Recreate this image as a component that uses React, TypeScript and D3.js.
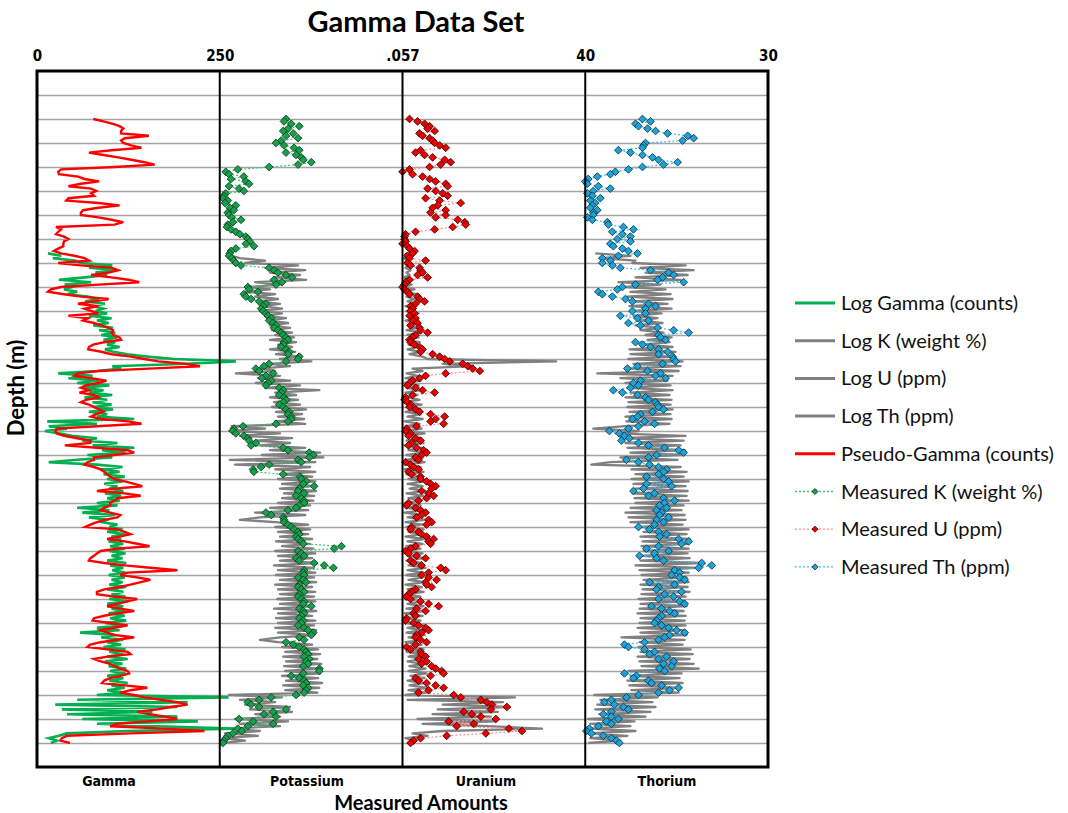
import React, { useEffect, useRef } from 'react';
import * as d3 from 'd3';

// depth of first sample (m), samples are every 1 m
const measuredStart = 20;
const logStart = 76;

// measured K (weight %), 20 m .. 280 m
const measuredK = [
  1.65, 1.60, 1.78, 1.98, 1.70, 1.58, 1.83, 1.65, 1.95, 1.53,
  1.40, 1.60, 1.85, 1.98, 1.65, 1.90, 2.03, 2.08, 2.28, 1.95,
  1.23, 0.45, 0.15, 0.23, 0.60, 0.28, 0.65, 0.73, 0.23, 0.48,
  0.60, 0.15, 0.10, 0.08, 0.20, 0.13, 0.40, 0.25, 0.35, 0.20,
  0.23, 0.30, 0.53, 0.33, 0.20, 0.18, 0.28, 0.40, 0.50, 0.65,
  0.70, 0.75, 0.65, 0.85, 0.40, 0.28, 0.25, 0.23, 0.30, 0.35,
  0.40, 0.53, 1.23, 1.35, 1.45, 1.65, 1.80, 1.35, 1.55, 1.40,
  0.70, 0.73, 0.95, 0.60, 0.65, 0.78, 0.98, 1.15, 1.08, 1.03,
  1.08, 1.15, 1.20, 1.28, 1.23, 1.33, 1.40, 1.35, 1.45, 1.53,
  1.58, 1.65, 1.70, 1.60, 1.58, 1.53, 1.65, 1.73, 1.70, 1.98,
  1.95, 1.65, 1.23, 1.10, 0.90, 0.98, 1.33, 1.15, 1.05, 1.28,
  1.20, 1.15, 1.48, 1.58, 1.53, 1.48, 1.60, 1.65, 1.58, 1.48,
  1.58, 1.65, 1.73, 1.70, 1.78, 1.78, 1.70, 1.40, 0.58, 0.35,
  0.33, 0.40, 0.60, 0.70, 0.73, 0.90, 0.78, 1.58, 1.70, 2.23,
  2.33, 2.23, 1.95, 2.03, 1.23, 1.03, 0.83, 0.85, 1.58, 2.00,
  2.03, 2.15, 2.08, 2.35, 1.98, 1.95, 2.10, 1.90, 2.03, 2.10,
  2.10, 1.98, 1.90, 1.70, 1.15, 1.28, 1.58, 1.60, 1.60, 1.70,
  1.78, 1.85, 1.95, 1.98, 1.90, 1.95, 2.03, 2.08, 3.03, 2.85,
  1.95, 2.03, 2.10, 1.90, 1.98, 2.35, 2.60, 2.83, 2.10, 2.08,
  2.10, 1.95, 2.08, 2.15, 1.98, 1.95, 2.03, 2.10, 1.98, 1.95,
  2.03, 2.10, 2.08, 2.28, 1.98, 2.08, 2.10, 2.03, 1.98, 2.08,
  2.03, 1.95, 2.10, 2.20, 2.33, 2.28, 1.98, 2.10, 1.65, 1.83,
  1.98, 2.10, 2.15, 2.20, 2.10, 2.23, 2.15, 2.20, 2.08, 2.48,
  2.48, 2.08, 1.78, 1.98, 2.10, 2.15, 2.08, 2.20, 2.15, 2.10,
  1.90, 1.28, 0.98, 0.70, 0.78, 0.98, 1.65, 1.33, 1.10, 1.40,
  0.48, 0.83, 1.33, 0.70, 0.45, 0.55, 0.33, 0.20, 0.15, 0.10,
  0.08,
];

// measured U (ppm)
const measuredU = [
  1.4, 3.0, 4.4, 5.4, 5.0, 6.4, 3.4, 4.0, 5.4, 6.0,
  6.4, 7.4, 8.6, 3.6, 2.6, 4.4, 6.0, 8.4, 9.6, 7.6,
  5.4, 1.4, 0.0, 2.0, 4.0, 5.4, 6.6, 8.6, 9.0, 5.0,
  6.6, 8.0, 9.0, 4.6, 7.4, 11.6, 7.0, 6.0, 8.6, 5.6,
  8.6, 6.6, 11.0, 12.4, 12.6, 10.0, 6.4, 2.6, 0.6, 0.4,
  0.4, 0.6, 0.0, 1.0, 1.4, 2.4, 2.0, 1.0, 1.4, 4.6,
  1.0, 1.6, 3.4, 3.6, 4.0, 3.0, 5.0, 1.4, 0.6, 0.4,
  0.0, 0.4, 1.0, 1.4, 3.0, 3.4, 4.4, 2.6, 1.6, 2.0,
  1.6, 2.4, 1.4, 2.6, 2.0, 3.0, 1.6, 3.4, 3.6, 5.0,
  2.6, 2.0, 1.4, 1.6, 2.4, 3.4, 4.0, 3.6, 6.0, 7.4,
  8.4, 9.4, 12.0, 13.0, 14.0, 15.4, 8.6, 4.6, 3.4, 2.0,
  1.4, 1.0, 2.6, 4.0, 6.4, 2.0, 0.6, 0.4, 1.0, 1.6,
  1.4, 2.6, 3.4, 5.6, 8.4, 6.6, 5.6, 8.2, 2.8, 0.8,
  0.6, 1.6, 1.2, 2.6, 3.6, 1.8, 1.2, 2.8, 4.2, 4.8,
  3.8, 2.6, 3.2, 0.6, 1.6, 2.2, 3.2, 1.2, 1.8, 3.6,
  3.6, 4.8, 5.6, 6.6, 5.8, 3.8, 5.2, 6.2, 4.8, 3.2,
  1.2, 0.8, 2.6, 3.6, 4.6, 3.8, 2.8, 5.2, 5.8, 4.8,
  1.8, 1.6, 3.2, 3.8, 4.8, 6.2, 5.2, 5.6, 2.6, 1.6,
  0.6, 1.2, 2.8, 4.6, 1.6, 2.2, 3.8, 7.6, 8.6, 5.2,
  3.8, 5.2, 6.8, 4.6, 4.8, 5.8, 2.6, 1.8, 1.2, 0.8,
  1.6, 3.6, 5.2, 7.2, 2.8, 4.6, 2.2, 2.6, 0.8, 0.6,
  2.2, 3.2, 4.6, 5.2, 3.8, 2.8, 2.6, 3.6, 4.8, 2.6,
  0.8, 1.6, 3.6, 3.8, 4.6, 3.2, 4.8, 3.8, 5.8, 6.6,
  7.8, 8.2, 5.6, 2.6, 3.2, 4.8, 6.6, 8.2, 5.2, 3.2,
  10.2, 11.6, 15.6, 16.8, 17.8, 20.8, 17.6, 12.2, 13.8, 15.6,
  18.6, 9.2, 14.2, 10.8, 21.2, 23.8, 16.6, 8.8, 3.6, 2.2,
  1.6,
];

// measured Th (ppm)
const measuredTh = [
  11.4, 13.0, 10.0, 10.6, 12.4, 14.0, 16.4, 20.4, 21.6, 19.4,
  12.0, 11.6, 11.4, 6.6, 9.0, 11.4, 13.4, 14.6, 18.4, 15.6,
  11.4, 8.6, 6.0, 5.0, 2.4, 0.6, 0.0, 0.4, 2.6, 5.0,
  1.6, 0.4, 1.4, 3.0, 1.0, 2.0, 1.4, 1.0, 2.4, 1.6,
  1.6, 0.4, 1.4, 4.4, 4.6, 7.6, 9.6, 5.4, 7.4, 9.0,
  6.4, 9.0, 5.0, 5.6, 7.4, 8.6, 10.4, 6.6, 3.4, 5.0,
  3.4, 5.4, 7.0, 13.0, 16.6, 17.6, 15.4, 14.4, 19.6, 10.0,
  7.4, 6.4, 2.6, 3.4, 5.4, 8.0, 9.4, 12.6, 14.0, 12.0,
  9.4, 12.0, 7.0, 10.4, 12.6, 8.6, 11.0, 14.4, 17.6, 20.6,
  14.6, 15.0, 16.0, 10.0, 11.4, 13.0, 14.6, 16.4, 14.6, 17.4,
  17.6, 18.0, 15.4, 10.4, 8.4, 12.4, 15.0, 14.0, 16.0, 11.0,
  9.6, 10.6, 9.0, 5.6, 7.4, 10.4, 12.0, 12.6, 14.0, 14.4,
  14.6, 15.6, 13.4, 11.0, 10.4, 9.4, 11.8, 13.8, 10.6, 8.6,
  4.8, 6.8, 7.8, 8.8, 7.2, 10.6, 12.6, 15.8, 18.6, 19.6,
  14.2, 12.6, 8.2, 10.6, 12.8, 14.6, 16.2, 15.6, 14.6, 12.2,
  15.6, 16.6, 12.2, 17.2, 11.6, 9.6, 13.8, 12.6, 15.6, 17.8,
  15.8, 14.8, 16.2, 14.2, 15.2, 14.8, 16.6, 14.2, 15.6, 13.8,
  10.6, 12.8, 14.6, 16.2, 14.8, 18.6, 20.6, 19.2, 14.6, 12.2,
  16.6, 13.8, 10.8, 14.2, 15.6, 23.2, 25.2, 22.6, 17.8, 18.8,
  17.2, 18.8, 19.8, 12.8, 17.8, 14.6, 14.2, 19.2, 15.8, 17.6,
  14.6, 18.8, 19.8, 13.2, 15.2, 16.8, 17.8, 15.2, 14.6, 14.2,
  13.8, 15.2, 16.6, 18.2, 19.8, 16.8, 15.8, 14.6, 11.8, 7.8,
  8.6, 11.8, 13.8, 12.8, 16.2, 14.6, 17.6, 15.6, 17.2, 14.8,
  15.8, 7.8, 10.2, 9.6, 12.6, 13.2, 15.2, 18.6, 16.8, 14.6,
  10.6, 8.2, 5.2, 3.8, 5.8, 7.6, 8.6, 5.2, 3.6, 5.2,
  6.6, 4.2, 5.2, 2.6, 0.8, 0.2, 1.2, 3.6, 5.2, 6.2,
  6.8,
];

// pseudo-gamma (counts), 20 m .. 280 m
const pseudoGamma = [
  77, 91, 104, 113, 118, 115, 115, 153, 120, 115,
  118, 129, 143, 102, 71, 91, 111, 129, 147, 161,
  106, 33, 29, 30, 56, 65, 85, 60, 43, 74,
  81, 74, 78, 43, 40, 84, 113, 84, 63, 60,
  60, 84, 102, 118, 106, 26, 33, 29, 26, 37,
  43, 37, 36, 36, 29, 23, 33, 51, 65, 71,
  29, 60, 102, 111, 98, 74, 102, 125, 140, 84,
  33, 19, 15, 37, 60, 98, 78, 56, 84, 65,
  74, 84, 43, 70, 63, 78, 88, 98, 104, 102,
  104, 113, 115, 92, 77, 71, 70, 88, 102, 129,
  147, 166, 202, 223, 153, 84, 56, 51, 74, 95,
  84, 67, 60, 71, 58, 78, 84, 67, 60, 71,
  78, 85, 91, 81, 74, 88, 125, 143, 82, 27,
  25, 27, 37, 55, 73, 73, 38, 82, 124, 133,
  106, 78, 78, 69, 65, 78, 87, 92, 96, 100,
  106, 120, 133, 144, 106, 82, 120, 142, 110, 106,
  100, 100, 92, 87, 100, 114, 110, 92, 82, 73,
  66, 110, 120, 128, 113, 96, 120, 137, 154, 110,
  87, 82, 78, 73, 71, 92, 120, 155, 192, 124,
  114, 137, 155, 142, 128, 113, 92, 82, 82, 106,
  137, 124, 110, 96, 114, 133, 110, 92, 78, 76,
  100, 124, 106, 87, 96, 106, 133, 110, 87, 73,
  69, 96, 124, 128, 96, 78, 87, 100, 106, 114,
  124, 126, 114, 100, 92, 89, 120, 151, 128, 114,
  133, 147, 169, 192, 206, 183, 165, 137, 155, 174,
  192, 151, 110, 100, 174, 229, 128, 41, 34, 32,
  45,
];

// logged gamma (counts), 76 m .. 280 m
const logGamma = [
  15, 33, 22, 52,
  60, 103, 71, 110, 80, 96, 66, 30, 74, 38,
  48, 37, 55, 41, 69, 85, 66, 93, 76, 91,
  80, 96, 71, 102, 82, 98, 77, 104, 85, 107,
  88, 110, 91, 107, 96, 113, 93, 104, 124, 151,
  188, 272, 206, 103, 115, 82, 29, 76, 43, 85,
  55, 99, 62, 91, 71, 103, 65, 96, 76, 102,
  77, 104, 71, 96, 82, 133, 14, 82, 16, 41,
  11, 30, 48, 82, 62, 110, 76, 133, 89, 121,
  69, 103, 55, 16, 82, 117, 87, 113, 91, 120,
  96, 117, 92, 110, 99, 118, 93, 115, 96, 113,
  82, 110, 55, 99, 62, 107, 71, 96, 89, 110,
  99, 117, 96, 121, 102, 115, 98, 118, 100, 120,
  99, 121, 102, 117, 96, 122, 100, 118, 103, 121,
  98, 120, 102, 117, 99, 122, 96, 118, 102, 121,
  99, 124, 96, 118, 102, 121, 98, 120, 100, 122,
  93, 117, 82, 113, 59, 107, 88, 118, 96, 115,
  91, 121, 99, 118, 96, 124, 93, 117, 98, 122,
  100, 121, 96, 118, 99, 124, 102, 120, 96, 121,
  82, 262, 55, 206, 25, 192, 34, 158, 41, 192,
  62, 220, 82, 165, 269, 124, 41, 30, 16, 27,
  19,
];

// logged K (weight %)
const logK = [
  0.25, 0.30, 0.50, 1.13,
  0.63, 1.95, 1.13, 2.13, 1.25, 2.00, 1.38, 2.15, 0.88, 1.50,
  0.70, 1.25, 0.63, 1.38, 0.88, 1.45, 0.95, 1.50, 1.05, 1.55,
  1.00, 1.55, 1.13, 1.65, 1.20, 1.70, 1.25, 1.75, 1.30, 1.80,
  1.38, 1.85, 1.25, 1.90, 1.45, 1.80, 1.25, 1.88, 1.40, 2.00,
  1.50, 2.28, 1.25, 1.75, 1.00, 1.38, 0.40, 1.50, 0.95, 1.75,
  0.90, 2.00, 1.13, 2.48, 1.38, 1.90, 1.25, 1.95, 1.35, 2.00,
  1.30, 2.15, 1.40, 2.05, 1.45, 2.10, 1.38, 2.13, 0.30, 1.13,
  0.23, 1.50, 0.50, 1.80, 0.88, 1.75, 1.00, 2.13, 1.25, 2.50,
  1.05, 2.58, 0.25, 2.38, 0.38, 2.25, 1.38, 2.38, 1.50, 2.30,
  1.45, 2.38, 1.55, 2.30, 1.50, 2.40, 1.60, 2.35, 1.55, 2.33,
  1.45, 2.25, 1.25, 2.20, 0.88, 2.13, 1.00, 0.50, 1.38, 2.20,
  1.38, 2.25, 1.45, 2.20, 1.50, 2.30, 1.40, 2.25, 1.55, 2.33,
  1.38, 2.38, 1.45, 2.30, 1.50, 2.40, 1.35, 2.35, 1.45, 2.38,
  1.40, 2.35, 1.50, 2.40, 1.38, 2.30, 1.45, 2.38, 1.50, 2.35,
  1.43, 2.38, 1.50, 2.33, 1.35, 2.40, 1.45, 2.30, 1.40, 2.38,
  1.45, 2.35, 1.38, 2.40, 1.45, 2.33, 1.50, 1.00, 1.45, 2.30,
  1.55, 2.45, 1.63, 2.50, 1.58, 2.43, 1.65, 2.53, 1.60, 2.48,
  1.63, 2.50, 1.55, 2.45, 1.65, 2.55, 1.58, 2.48, 1.63, 2.43,
  0.23, 1.55, 0.50, 1.38, 0.63, 1.75, 0.75, 1.80, 0.88, 1.50,
  0.38, 1.70, 0.50, 1.50, 0.25, 1.00, 0.13, 0.95, 0.08, 0.63,
  0.08,
];

// logged U (ppm)
const logU = [
  0.4, 1.2, 0.2, 1.0,
  0.4, 1.2, 0.6, 1.6, 0.8, 1.4, 0.4, 2.0, 0.2, 1.8,
  0.2, 2.4, 0.6, 2.8, 0.8, 2.4, 1.0, 3.0, 0.6, 2.6,
  0.8, 3.2, 1.0, 2.8, 0.6, 3.4, 1.2, 3.0, 0.8, 3.6,
  1.0, 3.2, 0.8, 3.4, 1.2, 3.0, 1.0, 3.6, 1.4, 4.0,
  5.0, 30.6, 8.0, 14.0, 2.0, 4.0, 0.8, 3.0, 0.6, 3.6,
  0.4, 3.2, 0.8, 3.6, 0.6, 3.0, 1.0, 3.4, 0.4, 3.8,
  0.8, 3.2, 0.6, 3.6, 1.0, 4.0, 0.4, 3.4, 0.8, 3.8,
  0.6, 4.4, 1.0, 3.6, 0.8, 4.2, 0.4, 3.8, 1.2, 4.6,
  0.8, 4.0, 0.6, 4.4, 1.0, 3.6, 0.4, 4.2, 0.8, 3.8,
  1.2, 4.4, 1.0, 4.0, 1.4, 4.6, 0.8, 4.2, 1.2, 3.8,
  0.6, 3.6, 0.8, 4.2, 0.4, 3.8, 1.0, 4.4, 0.6, 4.0,
  0.8, 4.2, 1.2, 3.8, 0.6, 4.4, 1.0, 4.0, 0.8, 3.6,
  0.6, 4.0, 1.0, 4.4, 0.8, 3.8, 1.2, 4.6, 1.0, 4.2,
  0.8, 4.0, 1.2, 4.4, 0.6, 3.8, 1.0, 4.2, 0.8, 3.6,
  0.6, 3.8, 1.0, 4.2, 0.8, 4.4, 0.4, 4.0, 0.8, 3.6,
  0.6, 4.2, 1.0, 3.8, 0.8, 4.4, 1.2, 4.0, 0.6, 3.8,
  1.0, 4.2, 0.8, 3.8, 1.2, 4.4, 1.0, 4.0, 1.4, 4.6,
  1.2, 4.8, 1.6, 4.4, 1.0, 4.2, 1.4, 5.0, 1.2, 4.8,
  0.6, 22.4, 1.0, 20.0, 8.0, 21.2, 7.0, 19.0, 6.0, 17.6,
  3.0, 18.4, 4.0, 17.0, 27.8, 8.0, 2.0, 5.0, 0.6, 2.6,
  1.0,
];

// logged Th (ppm)
const logTh = [
  2.0, 9.0, 3.0, 10.0,
  9.4, 20.0, 11.0, 21.6, 12.0, 20.4, 10.0, 19.0, 6.6, 15.0,
  8.0, 16.0, 9.0, 17.0, 8.4, 17.4, 9.6, 16.4, 8.8, 17.2,
  10.0, 15.2, 9.6, 14.4, 10.4, 15.4, 10.0, 15.0, 11.0, 15.6,
  12.0, 17.2, 12.4, 16.8, 11.6, 17.4, 8.8, 18.0, 9.0, 17.6,
  8.6, 19.4, 9.6, 19.0, 8.0, 18.6, 2.4, 17.4, 7.0, 16.4,
  8.0, 17.0, 8.4, 17.4, 9.0, 16.8, 8.0, 17.2, 8.6, 17.0,
  8.4, 17.4, 8.8, 17.0, 8.0, 17.2, 8.2, 16.8, 8.0, 1.6,
  10.6, 6.0, 20.0, 7.2, 19.6, 8.0, 19.0, 8.4, 19.8, 9.0,
  19.4, 7.0, 18.4, 5.0, 1.2, 19.0, 9.2, 20.2, 10.0, 19.6,
  9.2, 20.6, 9.6, 20.0, 10.0, 20.4, 9.4, 20.2, 9.8, 20.6,
  10.0, 19.6, 9.0, 19.2, 8.0, 19.8, 8.6, 20.0, 9.0, 19.4,
  11.2, 20.6, 11.6, 20.2, 11.0, 20.8, 11.4, 20.4, 11.2, 20.6,
  11.6, 20.4, 11.2, 20.8, 11.0, 23.4, 10.0, 22.4, 10.8, 20.6,
  11.2, 20.2, 11.6, 20.6, 11.0, 20.4, 11.4, 20.8, 11.2, 20.0,
  10.6, 19.8, 11.0, 20.2, 10.8, 19.6, 10.4, 20.0, 11.0, 19.8,
  10.8, 20.0, 10.4, 19.6, 11.0, 20.2, 7.2, 19.8, 10.8, 19.4,
  10.6, 21.0, 11.0, 21.4, 10.4, 20.8, 10.8, 21.6, 11.2, 22.6,
  8.6, 19.2, 9.0, 18.8, 8.4, 19.4, 8.8, 19.0, 9.2, 18.6,
  1.8, 14.4, 3.0, 13.4, 2.4, 14.0, 2.0, 13.0, 2.8, 12.0,
  0.6, 9.8, 1.0, 9.0, 0.8, 10.0, 0.6, 8.4, 1.0, 7.0,
  0.6,
];

const topTickLabels = ['0', '250', '.057', '40', '30'];
const trackNames = ['Gamma', 'Potassium', 'Uranium', 'Thorium'];
const trackDomains: [number, number][] = [[0, 250], [0, 4.55], [0, 36.4], [0, 36.4]];
const depthDomain: [number, number] = [0, 290];

const legendItems = [
  { label: 'Log Gamma (counts)', color: '#00b050', kind: 'line' },
  { label: 'Log K (weight %)', color: '#808080', kind: 'line' },
  { label: 'Log U (ppm)', color: '#808080', kind: 'line' },
  { label: 'Log Th (ppm)', color: '#808080', kind: 'line' },
  { label: 'Pseudo-Gamma (counts)', color: '#ff0000', kind: 'line' },
  { label: 'Measured K (weight %)', color: '#3cc36f', fill: '#16a04c', stroke: '#0b3b1c', kind: 'marker' },
  { label: 'Measured U (ppm)', color: '#ff8c8c', fill: '#ee0000', stroke: '#3d0000', kind: 'marker' },
  { label: 'Measured Th (ppm)', color: '#3fbdf0', fill: '#1ea3d8', stroke: '#0a3446', kind: 'marker' },
];

const App = () => {
  const svgRef = useRef<SVGSVGElement>(null);

  useEffect(() => {
    const svg = d3.select(svgRef.current);
    svg.selectAll('*').remove();

    const left = 37, right = 768, top = 71, bottom = 767;

    const y = d3.scaleLinear().domain(depthDomain).range([top, bottom]);
    const track = d3.scaleLinear().domain([0, 4]).range([left, right]);
    const xs = trackDomains.map((dom, i) =>
      d3.scaleLinear().domain(dom).range([track(i), track(i + 1)])
    );

    // horizontal depth grid
    svg.append('g')
      .attr('transform', `translate(${left},0)`)
      .call(d3.axisLeft(y).tickValues(d3.range(10, 290, 10)).tickSize(-(right - left)).tickFormat(() => ''))
      .call(g => g.select('.domain').remove())
      .call(g => g.selectAll('line').attr('stroke', '#a3a3a3').attr('stroke-width', 1.6));

    const lineFor = (scale: d3.ScaleLinear<number, number>, start: number) =>
      d3.line<number>().x(v => scale(v)).y((v, i) => y(start + i));

    // logs (gray)
    [[logK, 1], [logU, 2], [logTh, 3]].forEach(([vals, t]) => {
      svg.append('path')
        .datum(vals as number[])
        .attr('fill', 'none')
        .attr('stroke', '#808080')
        .attr('stroke-width', 2.3)
        .attr('stroke-linejoin', 'round')
        .attr('d', lineFor(xs[t as number], logStart));
    });

    svg.append('path')
      .datum(logGamma)
      .attr('fill', 'none')
      .attr('stroke', '#00b050')
      .attr('stroke-width', 2.6)
      .attr('d', lineFor(xs[0], logStart));

    svg.append('path')
      .datum(pseudoGamma)
      .attr('fill', 'none')
      .attr('stroke', '#ff0000')
      .attr('stroke-width', 2.4)
      .attr('d', lineFor(xs[0], measuredStart));

    const diamond = d3.symbol().type(d3.symbolSquare).size(30);

    const measured = [
      { vals: measuredK, t: 1, item: legendItems[5] },
      { vals: measuredU, t: 2, item: legendItems[6] },
      { vals: measuredTh, t: 3, item: legendItems[7] },
    ];
    measured.forEach(({ vals, t, item }) => {
      svg.append('path')
        .datum(vals)
        .attr('fill', 'none')
        .attr('stroke', item.color)
        .attr('stroke-width', 1.2)
        .attr('stroke-dasharray', '2,2')
        .attr('d', lineFor(xs[t], measuredStart));
      svg.append('g')
        .selectAll('path')
        .data(vals)
        .join('path')
        .attr('d', diamond)
        .attr('transform', (v, i) => `translate(${xs[t](v)},${y(measuredStart + i)}) rotate(45)`)
        .attr('fill', item.fill as string)
        .attr('stroke', item.stroke as string)
        .attr('stroke-width', 0.8);
    });

    // track dividers and frame
    svg.append('g')
      .selectAll('line')
      .data([1, 2, 3])
      .join('line')
      .attr('x1', d => track(d)).attr('x2', d => track(d))
      .attr('y1', top).attr('y2', bottom)
      .attr('stroke', '#000').attr('stroke-width', 2);
    svg.append('rect')
      .attr('x', left).attr('y', top)
      .attr('width', right - left).attr('height', bottom - top)
      .attr('fill', 'none').attr('stroke', '#000').attr('stroke-width', 3);

    const narrow = '"Liberation Sans Narrow", "Arial Narrow", "DejaVu Sans Condensed", sans-serif';

    // top labels
    svg.append('g')
      .attr('transform', `translate(0,${top})`)
      .call(d3.axisTop(track).tickValues([0, 1, 2, 3, 4]).tickSize(0).tickPadding(10)
        .tickFormat((d, i) => topTickLabels[i]))
      .call(g => g.select('.domain').remove())
      .call(g => g.selectAll('text')
        .attr('font-family', narrow).attr('font-weight', 'bold')
        .attr('font-size', 15).attr('fill', '#000'));

    // bottom track names
    const bottomX = [109, 307, 486, 667];
    svg.append('g')
      .selectAll('text')
      .data(trackNames)
      .join('text')
      .attr('x', (d, i) => bottomX[i])
      .attr('y', 786)
      .attr('text-anchor', 'middle')
      .attr('font-family', narrow)
      .attr('font-weight', 'bold')
      .attr('font-size', 14)
      .text(d => d);

    svg.append('text')
      .attr('x', 421).attr('y', 810)
      .attr('text-anchor', 'middle')
      .attr('font-family', 'Lato, sans-serif')
      .attr('font-weight', 'bold')
      .attr('font-size', 20)
      .text('Measured Amounts');

    svg.append('text')
      .attr('transform', 'translate(24,388) rotate(-90)')
      .attr('text-anchor', 'middle')
      .attr('font-family', 'Lato, sans-serif')
      .attr('font-weight', 'bold')
      .attr('font-size', 22)
      .text('Depth (m)');

    svg.append('text')
      .attr('x', 416).attr('y', 32)
      .attr('text-anchor', 'middle')
      .attr('font-family', 'Lato, sans-serif')
      .attr('font-weight', 'bold')
      .attr('font-size', 29)
      .text('Gamma Data Set');

    // legend
    const legend = svg.append('g').attr('transform', 'translate(795,303)');
    const rows = legend.selectAll('g')
      .data(legendItems)
      .join('g')
      .attr('transform', (d, i) => `translate(0,${i * 37.7})`);
    rows.append('line')
      .attr('x1', 0).attr('x2', 40)
      .attr('stroke', d => d.color)
      .attr('stroke-width', d => (d.kind === 'line' ? 3 : 1.3))
      .attr('stroke-dasharray', d => (d.kind === 'line' ? null : '2,2'));
    rows.filter(d => d.kind === 'marker')
      .append('path')
      .attr('d', d3.symbol().type(d3.symbolSquare).size(18))
      .attr('transform', 'translate(20,0) rotate(45)')
      .attr('fill', d => d.fill as string)
      .attr('stroke', d => d.stroke as string)
      .attr('stroke-width', 0.8);
    rows.append('text')
      .attr('x', 46)
      .attr('dy', '0.35em')
      .attr('font-family', 'Lato, sans-serif')
      .attr('font-size', 20)
      .attr('fill', '#111')
      .text(d => d.label);
  }, []);

  return (
    <div style={{ position: 'absolute', left: 0, top: 0 }}>
      <svg ref={svgRef} width={1068} height={813} style={{ display: 'block', background: '#fff' }} />
    </div>
  );
};

export default App;
